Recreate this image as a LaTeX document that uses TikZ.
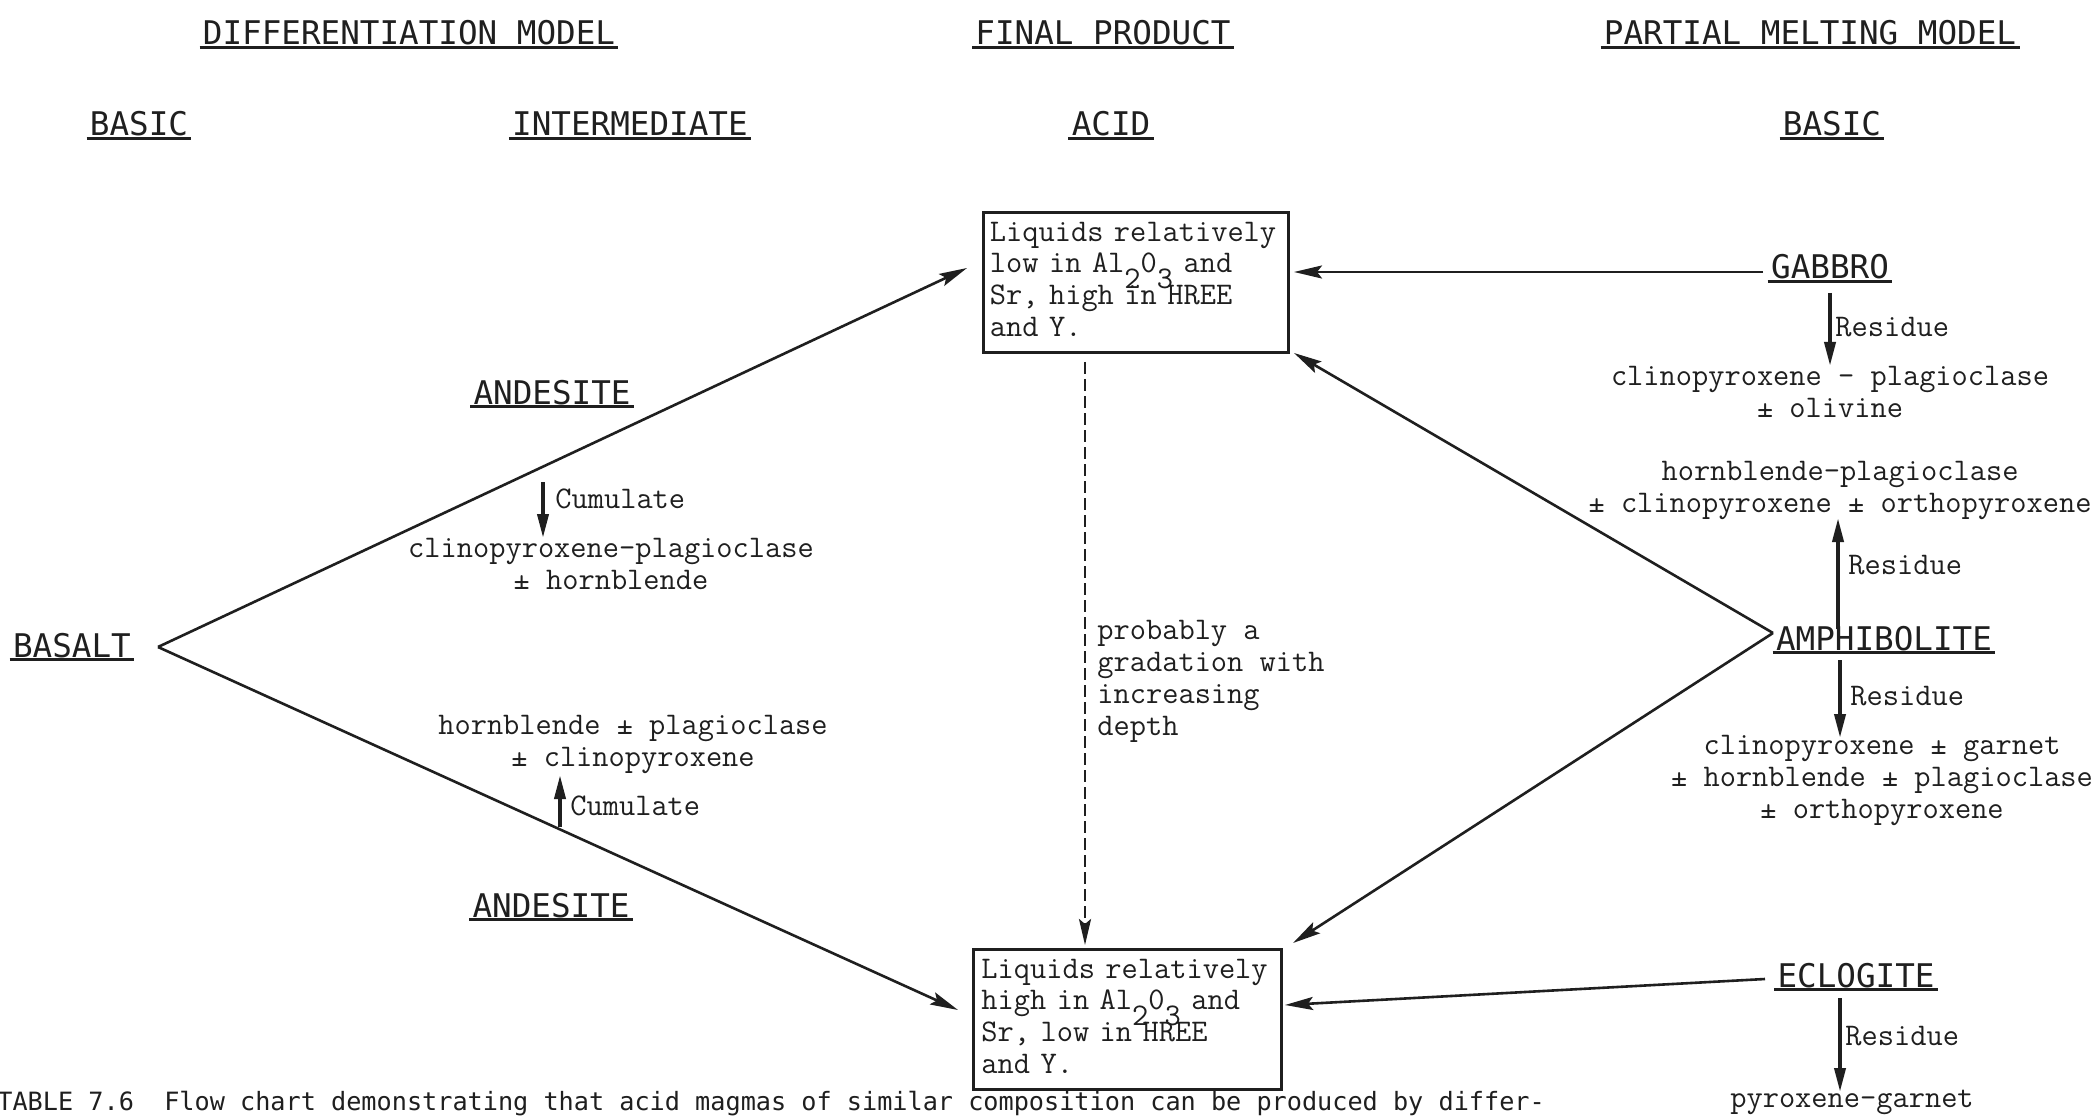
\documentclass[tikz,border=0pt]{standalone}
\usepackage{fontspec}
\usetikzlibrary{arrows.meta}
\newfontfamily\capsfont{DejaVu Sans Mono}
% typed subscripts: same size, dropped half a line, no effect on spacing
\newcommand{\lowered}[1]{\smash{\raisebox{-8pt}{#1}}}
\begin{document}
\begin{tikzpicture}[x=0.5pt, y=-0.5pt,
  hd/.style={font=\capsfont\fontsize{16.3}{19}\selectfont, inner sep=0pt, anchor=base, text=black!88},
  % multi-line texts are placed by the baseline of their last line
  txt/.style={font=\ttfamily\fontsize{15.75}{15.85}\selectfont, inner sep=0pt, align=center, anchor=base, text=black!88},
  txtl/.style={font=\ttfamily\fontsize{15.75}{15.85}\selectfont, inner sep=0pt, align=left, anchor=base west, text=black!88},
  lbl/.style={font=\ttfamily\fontsize{15.75}{15.85}\selectfont, inner sep=0pt, anchor=base west, text=black!88},
  capt/.style={font=\capsfont\fontsize{12.6}{15}\selectfont, inner sep=0pt, anchor=base west, text=black!88},
  liqbox/.style={draw=black!88, line width=1.4pt, font=\ttfamily\fontsize{15.75}{15.85}\selectfont,
    align=left, anchor=north west, inner ysep=4.8pt, text width=146pt, text=black!88},
  ulstroke/.style={line width=1.6pt, draw=black!88},
  conn/.style={line width=1.3pt, draw=black!88, -{Stealth[length=14pt, width=6.5pt, inset=2.5pt]}},
  gradline/.style={line width=1.3pt, draw=black!88, dash pattern=on 6pt off 2.5pt,
    -{Stealth[length=13pt, width=6pt, inset=2.5pt]}},
  resarrow/.style={line width=1.9pt, draw=black!88, -{Triangle[length=12pt, width=5.5pt]}}
]
\useasboundingbox (0,0) rectangle (2097,1117);
\clip (0,0) rectangle (2097,1117);
\fill[white] (0,0) rectangle (2097,1117);

% column headings
\node[hd] (diffm)  at (409,45)  {DIFFERENTIATION MODEL};
\node[hd] (finalp) at (1103,45) {FINAL PRODUCT};
\node[hd] (partm)  at (1810,45) {PARTIAL MELTING MODEL};
\node[hd] (basicl) at (139,136) {BASIC};
\node[hd] (interm) at (630,136) {INTERMEDIATE};
\node[hd] (acid)   at (1111,136) {ACID};
\node[hd] (basicr) at (1832,136) {BASIC};

% rock names
\node[hd] (basalt) at (72,657)   {BASALT};
\node[hd] (andtop) at (552,404)  {ANDESITE};
\node[hd] (andbot) at (551,917)  {ANDESITE};
\node[hd] (gabbro) at (1830,279) {GABBRO};
\node[hd] (amph)   at (1884,650) {AMPHIBOLITE};
\node[hd] (eclog)  at (1856,987) {ECLOGITE};

\foreach \n in {diffm,finalp,partm,basicl,interm,acid,basicr,basalt,andtop,andbot,gabbro,amph,eclog}
  \draw[ulstroke] ([xshift=-1.5pt,yshift=-1.3pt]\n.base west) -- ([xshift=1.5pt,yshift=-1.3pt]\n.base east);

% acid liquids
\node[liqbox, inner xsep=3.25pt] (acidlow) at (982,211)
  {Liquids relatively\\low in Al\lowered{2}0\lowered{3} and\\Sr, high in HREE\\and Y.\rule[-3.2pt]{0pt}{3.2pt}};
\node[liqbox, inner xsep=4pt] (acidhigh) at (972,948)
  {Liquids relatively\\high in Al\lowered{2}0\lowered{3} and\\Sr, low in HREE\\and Y.\rule[-3.2pt]{0pt}{3.2pt}};

% differentiation branch
\node[lbl] (cumt)  at (555,508) {Cumulate};
\node[txt] (cpxpl) at (611,589) {clinopyroxene-plagioclase\\± hornblende};
\node[txt] (hblpl) at (633,766) {hornblende ± plagioclase\\± clinopyroxene};
\node[lbl] (cumb)  at (570,815) {Cumulate};

% gradation note
\node[txtl] (grad) at (1097,735) {probably a\\gradation with\\increasing\\depth};

% partial melting branch
\node[lbl] (resg)    at (1835,337)  {Residue};
\node[txt] (gabres)  at (1830,417)  {clinopyroxene – plagioclase\\± olivine};
\node[txt] (amphup)  at (1840,512)  {hornblende-plagioclase\\± clinopyroxene ± orthopyroxene};
\node[lbl] (resa1)   at (1848,574)  {Residue};
\node[lbl] (resa2)   at (1850,705)  {Residue};
\node[txt] (amphres) at (1882,818)  {clinopyroxene ± garnet\\± hornblende ± plagioclase\\± orthopyroxene};
\node[lbl] (rese)    at (1845,1045) {Residue};
\node[txt] (eclres)  at (1852,1107) {pyroxene-garnet};

% caption
\node[capt] (caption) at (-3,1110)
  {TABLE 7.6\ \ Flow chart demonstrating that acid magmas of similar composition can be produced by differ-};

% connector end points
\coordinate (basv)   at (158,647);
\coordinate (amphv)  at (1773,633);
\coordinate (gabend) at (1763,272);
\coordinate (eclend) at (1765,979);
\coordinate (inTL)   at (967,268);
\coordinate (inTR)   at (1294,272);
\coordinate (inTRb)  at (1294,353);
\coordinate (inBL)   at (958,1010);
\coordinate (inBR)   at (1285,1005);
\coordinate (inBRt)  at (1293,943);
\coordinate (gradtop) at (1085,362);
\coordinate (gradbot) at (1085,945);

\draw[conn] (basv) -- (inTL);
\draw[conn] (basv) -- (inBL);
\draw[conn] (gabend) -- (inTR);
\draw[conn] (amphv) -- (inTRb);
\draw[conn] (amphv) -- (inBRt);
\draw[conn] (eclend) -- (inBR);
\draw[gradline] (gradtop) -- (gradbot);

% residue and cumulate arrows
\coordinate (cumtA) at (543,482);  \coordinate (cumtB) at (543,538);
\coordinate (cumbA) at (560,827);  \coordinate (cumbB) at (560,775);
\coordinate (resgA) at (1830,293); \coordinate (resgB) at (1830,366);
\coordinate (resuA) at (1838,629); \coordinate (resuB) at (1838,518);
\coordinate (resdA) at (1840,660); \coordinate (resdB) at (1840,738);
\coordinate (reseA) at (1840,998); \coordinate (reseB) at (1840,1092);
\draw[resarrow] (cumtA) -- (cumtB);
\draw[resarrow] (cumbA) -- (cumbB);
\draw[resarrow] (resgA) -- (resgB);
\draw[resarrow] (resuA) -- (resuB);
\draw[resarrow] (resdA) -- (resdB);
\draw[resarrow] (reseA) -- (reseB);
\end{tikzpicture}
\end{document}
